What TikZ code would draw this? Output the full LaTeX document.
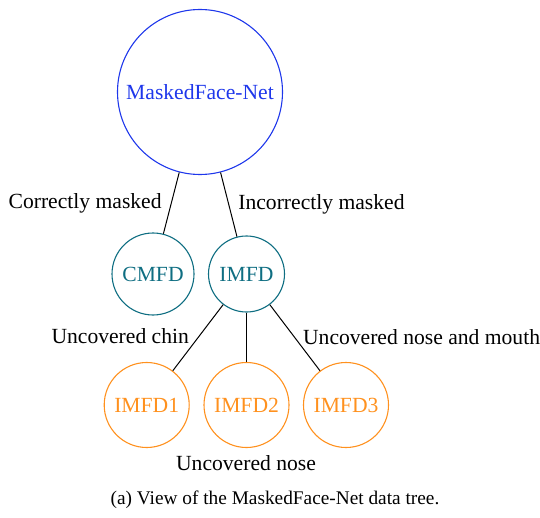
\documentclass[tikz,border=0pt]{standalone}
\usepackage{fontspec}
\setmainfont{Liberation Serif}
\definecolor{rootblue}{RGB}{30,55,235}
\definecolor{tealc}{RGB}{15,110,130}
\definecolor{orangec}{RGB}{255,145,30}
\begin{document}
\begin{tikzpicture}[x=0.5pt,y=-0.5pt,
  nodefont/.style={font=\fontsize{10.8}{13}\selectfont},
  tnode/.style={circle,draw,inner sep=0pt,line width=0.55pt,nodefont},
  lbl/.style={inner sep=0pt,nodefont,text=black},
  edge/.style={draw=black,line width=0.5pt}]
\useasboundingbox (0,0) rectangle (540,518);
\node[tnode,draw=rootblue,text=rootblue,minimum size=82.5pt] (root) at (200,92) {MaskedFace-Net};
\node[tnode,draw=tealc,text=tealc,minimum size=41pt] (cmfd) at (153,274) {CMFD};
\node[tnode,draw=tealc,text=tealc,minimum size=38pt] (imfd) at (246.5,274) {IMFD};
\node[tnode,draw=orangec,text=orangec,minimum size=42.5pt] (imfd1) at (146.7,405) {IMFD1};
\node[tnode,draw=orangec,text=orangec,minimum size=42.5pt] (imfd2) at (246.5,405) {IMFD2};
\node[tnode,draw=orangec,text=orangec,minimum size=42.5pt] (imfd3) at (346,405) {IMFD3};
\draw[edge] (root) -- (cmfd);
\draw[edge] (root) -- (imfd);
\draw[edge] (imfd) -- (imfd1);
\draw[edge] (imfd) -- (imfd2);
\draw[edge] (imfd) -- (imfd3);
\node[lbl,anchor=base east] (lc) at (162,208) {Correctly masked};
\node[lbl,anchor=base west] (li) at (238,210) {Incorrectly masked};
\node[lbl,anchor=base east] (l1) at (189.3,343.3) {Uncovered chin};
\node[lbl,anchor=base west] (l3) at (302.7,344.3) {Uncovered nose and mouth};
\node[lbl,anchor=base] (l2) at (246,470.7) {Uncovered nose};
\node[inner sep=0pt,anchor=base,font=\fontsize{9.66}{12}\selectfont] (cap) at (275,504) {(a) View of the MaskedFace-Net data tree.};
\end{tikzpicture}
\end{document}
